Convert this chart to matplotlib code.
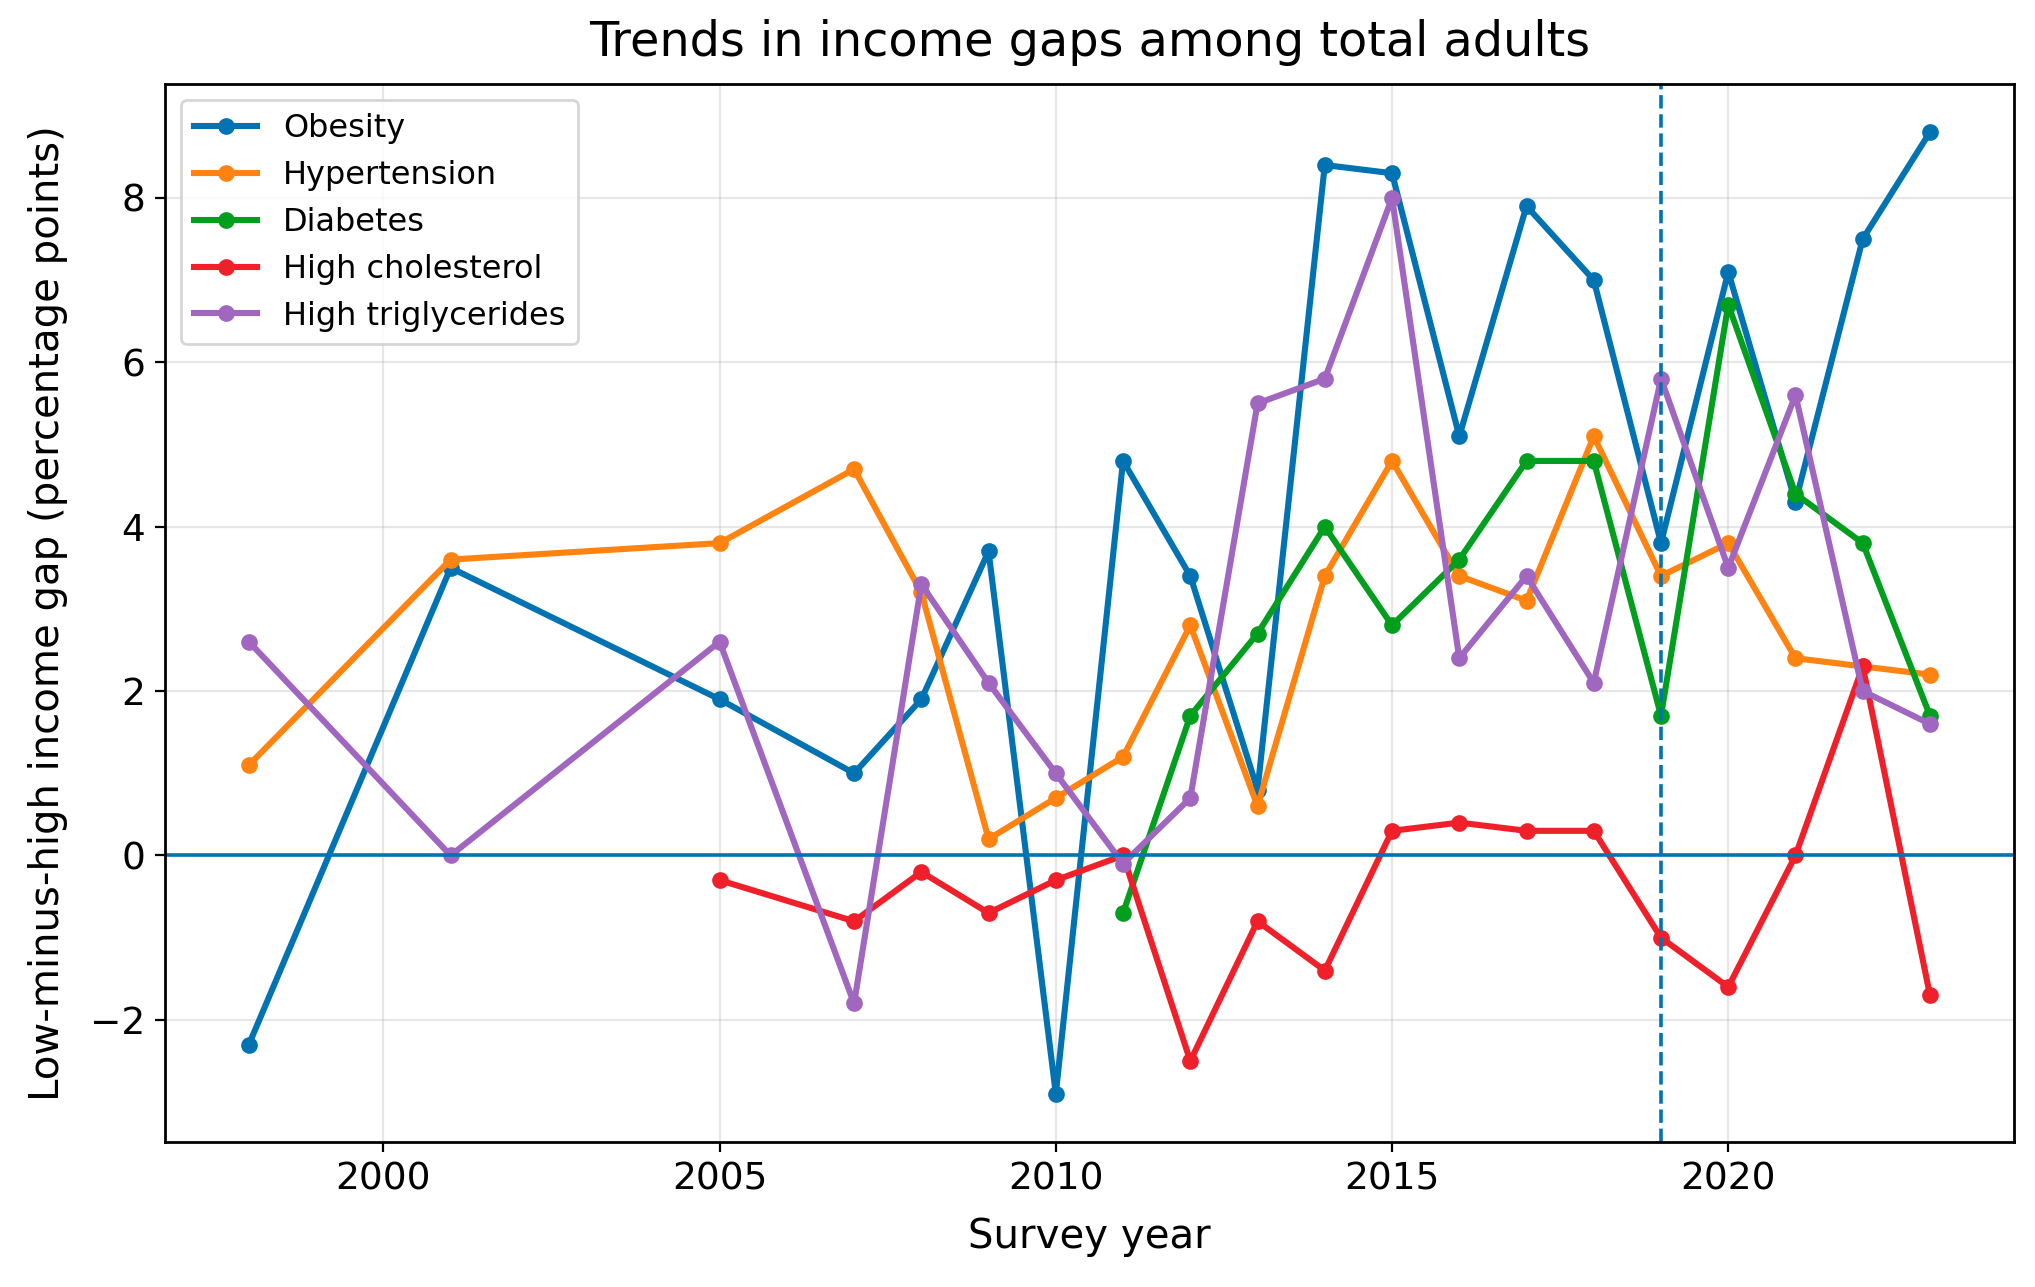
import numpy as np
import matplotlib
matplotlib.use("Agg")
import matplotlib.pyplot as plt

# Survey years (each series starts at its own first year)
years = [1998, 2001, 2005, 2007, 2008, 2009, 2010, 2011, 2012, 2013,
         2014, 2015, 2016, 2017, 2018, 2019, 2020, 2021, 2022, 2023]

obesity = [-2.3, 3.5, 1.9, 1.0, 1.9, 3.7, -2.9, 4.8, 3.4, 0.8,
           8.4, 8.3, 5.1, 7.9, 7.0, 3.8, 7.1, 4.3, 7.5, 8.8]
hypertension = [1.1, 3.6, 3.8, 4.7, 3.2, 0.2, 0.7, 1.2, 2.8, 0.6,
                3.4, 4.8, 3.4, 3.1, 5.1, 3.4, 3.8, 2.4, 2.3, 2.2]
triglycerides = [2.6, 0.0, 2.6, -1.8, 3.3, 2.1, 1.0, -0.1, 0.7, 5.5,
                 5.8, 8.0, 2.4, 3.4, 2.1, 5.8, 3.5, 5.6, 2.0, 1.6]

diabetes_years = [2011, 2012, 2013, 2014, 2015, 2016, 2017, 2018, 2019,
                  2020, 2021, 2022, 2023]
diabetes = [-0.7, 1.7, 2.7, 4.0, 2.8, 3.6, 4.8, 4.8, 1.7, 6.7, 4.4, 3.8, 1.7]

chol_years = [2005, 2007, 2008, 2009, 2010, 2011, 2012, 2013, 2014,
              2015, 2016, 2017, 2018, 2019, 2020, 2021, 2022, 2023]
cholesterol = [-0.3, -0.8, -0.2, -0.7, -0.3, 0.0, -2.5, -0.8, -1.4,
               0.3, 0.4, 0.3, 0.3, -1.0, -1.6, 0.0, 2.3, -1.7]

cutoff_year = 2019

fig, ax = plt.subplots(figsize=(10.175, 6.435), dpi=200)

style = dict(marker="o", ms=5, lw=2.2)
ax.plot(years, obesity, color="#0173B2", label="Obesity", **style)
ax.plot(years, hypertension, color="#FF8311", label="Hypertension", **style)
ax.plot(diabetes_years, diabetes, color="#029E1E", label="Diabetes", **style)
ax.plot(chol_years, cholesterol, color="#F0202A", label="High cholesterol", **style)
ax.plot(years, triglycerides, color="#A066C0", label="High triglycerides", **style)

ax.axhline(0, color="#0173B2", lw=1.3)
ax.axvline(cutoff_year, color="#0173B2", lw=1.3, ls="--")

ax.grid(True, alpha=0.3)
ax.set_title("Trends in income gaps among total adults", fontsize=17.2, pad=10)
ax.set_xlabel("Survey year", fontsize=14.5, labelpad=7)
ax.set_ylabel("Low-minus-high income gap (percentage points)", fontsize=14.5, labelpad=8)
ax.tick_params(labelsize=13.5)
for side in ax.spines.values():
    side.set_linewidth(1.0)
ax.legend(loc="upper left", fontsize=11.5)

plt.subplots_adjust(left=0.081, right=0.9897, top=0.9347, bottom=0.1127)
plt.savefig("out.png", dpi=200)
